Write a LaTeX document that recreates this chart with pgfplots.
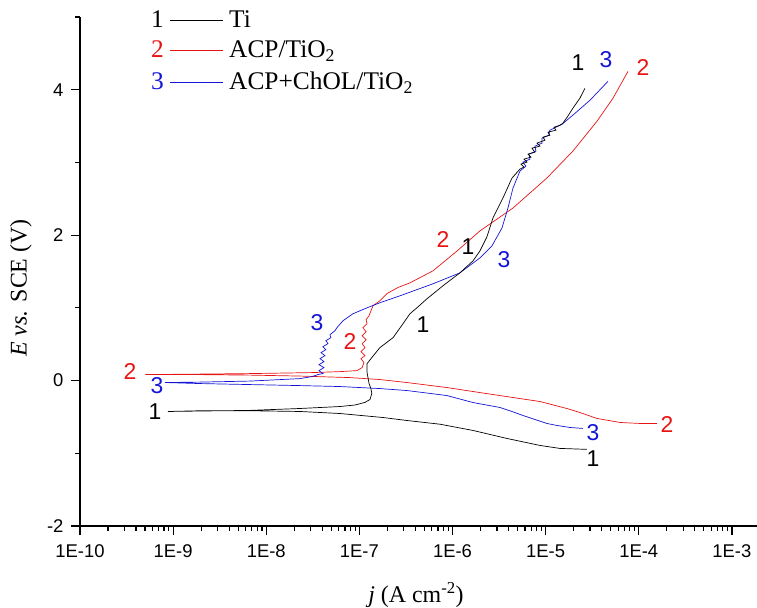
\documentclass[border=0pt]{standalone}
\usepackage{pgfplots}
\pgfplotsset{compat=1.18}
\usepackage{fontspec}
\setmainfont{Liberation Serif}
\newfontfamily\arial{Liberation Sans}

\definecolor{cred}{RGB}{232,20,20}
\definecolor{cblue}{RGB}{20,20,215}

\begin{document}
\begin{tikzpicture}
\begin{axis}[
    at={(80bp,82bp)}, anchor=south west,
    width=677bp, height=509bp, scale only axis,
    xmode=log,
    xmin=1e-10, xmax=1.86e-3,
    ymin=-2, ymax=5,
    axis lines*=left,
    axis line style={line width=1.5bp},
    tick align=outside,
    major tick length=9bp, minor tick length=4.5bp,
    every tick/.style={black, line width=1.2bp},
    xtick={1e-10,1e-9,1e-8,1e-7,1e-6,1e-5,1e-4,1e-3},
    xticklabels={1E-10,1E-9,1E-8,1E-7,1E-6,1E-5,1E-4,1E-3},
    minor xtick={2e-10,3e-10,4e-10,5e-10,6e-10,7e-10,8e-10,9e-10,
                 2e-9,3e-9,4e-9,5e-9,6e-9,7e-9,8e-9,9e-9,
                 2e-8,3e-8,4e-8,5e-8,6e-8,7e-8,8e-8,9e-8,
                 2e-7,3e-7,4e-7,5e-7,6e-7,7e-7,8e-7,9e-7,
                 2e-6,3e-6,4e-6,5e-6,6e-6,7e-6,8e-6,9e-6,
                 2e-5,3e-5,4e-5,5e-5,6e-5,7e-5,8e-5,9e-5,
                 2e-4,3e-4,4e-4,5e-4,6e-4,7e-4,8e-4,9e-4},
    ytick={-2,0,2,4},
    yticklabels={-2,0,2,4},
    minor ytick={-1,1,3,5},
    tick label style={font=\arial\fontsize{18.5}{20}\selectfont},
    xticklabel style={yshift=-6bp},
    yticklabel style={xshift=-4bp},
    xlabel={\textit{j} (A cm\textsuperscript{-2})},
    ylabel={\textit{E vs.} SCE (V)},
    label style={font=\fontsize{24}{26}\selectfont},
    xlabel style={at={(axis description cs:0.4963,0)}, anchor=center, yshift=-69bp},
    ylabel style={at={(axis description cs:-0.0872,0.4676)}, anchor=center},
]
% 2: ACP/TiO2
\addplot[cred, line width=0.7bp] coordinates {
(1.57e-4,-0.590)(1.03e-4,-0.590)(6.28e-5,-0.576)(3.56e-5,-0.521)(2.33e-5,-0.439)
(1.69e-5,-0.384)(8.69e-6,-0.288)(4.46e-6,-0.233)(1.97e-6,-0.165)(8.71e-7,-0.096)
(3.24e-7,-0.027)(1.66e-7,0.014)(7.92e-8,0.041)(2.30e-8,0.062)(6.68e-9,0.075)
(1.94e-9,0.082)(4.99e-10,0.082)
(1.94e-9,0.089)(6.68e-9,0.096)(3.18e-8,0.110)(6.19e-8,0.123)(9.42e-8,0.137)
(1.07e-7,0.178)(1.12e-7,0.247)(1.04e-7,0.302)(1.15e-7,0.343)(1.04e-7,0.398)
(1.15e-7,0.453)(1.07e-7,0.508)(1.18e-7,0.562)(1.07e-7,0.617)(1.18e-7,0.672)
(1.09e-7,0.727)(1.21e-7,0.782)(1.18e-7,0.837)(1.27e-7,0.892)(1.40e-7,1.029)
(1.66e-7,1.097)(2.00e-7,1.200)(2.60e-7,1.280)(3.49e-7,1.344)(6.17e-7,1.509)(1.12e-6,1.783)
(1.97e-6,2.058)(4.46e-6,2.373)(1.03e-5,2.785)(1.96e-5,3.155)(3.56e-5,3.567)
(5.28e-5,3.882)(7.66e-5,4.252)
};
% 3: ACP+ChOL/TiO2
\addplot[cblue, line width=0.7bp] coordinates {
(2.51e-5,-0.658)(1.82e-5,-0.645)(1.32e-5,-0.617)(1.03e-5,-0.590)(7.67e-6,-0.535)
(5.70e-6,-0.480)(4.35e-6,-0.425)(3.23e-6,-0.370)(1.66e-6,-0.302)(8.71e-7,-0.206)(3.24e-7,-0.137)
(1.66e-7,-0.110)(6.18e-8,-0.082)(2.30e-8,-0.069)(6.68e-9,-0.055)(1.94e-9,-0.041)
(8.18e-10,-0.027)
(1.94e-9,-0.021)(6.68e-9,-0.007)(2.30e-8,0.027)(3.10e-8,0.055)(3.59e-8,0.082)
(4.06e-8,0.096)(3.68e-8,0.137)(4.17e-8,0.178)(3.68e-8,0.219)(4.17e-8,0.261)
(3.78e-8,0.302)(4.27e-8,0.343)(3.87e-8,0.384)(4.37e-8,0.425)(4.06e-8,0.466)
(4.60e-8,0.508)(4.37e-8,0.549)(4.95e-8,0.590)(4.83e-8,0.631)(5.47e-8,0.686)
(5.74e-8,0.727)(6.67e-8,0.823)(8.53e-8,0.919)(1.21e-7,1.001)(1.66e-7,1.070)
(2.73e-7,1.166)(6.17e-7,1.331)(1.20e-6,1.481)(1.97e-6,1.687)(2.65e-6,1.852)
(3.40e-6,2.099)(3.94e-6,2.373)(4.46e-6,2.647)(5.30e-6,2.881)
(6.14e-6,2.949)(5.70e-6,3.004)(6.78e-6,3.045)(6.62e-6,3.114)(7.87e-6,3.155)
(7.67e-6,3.224)(9.12e-6,3.265)(9.12e-6,3.333)(1.08e-5,3.374)(1.11e-5,3.443)
(1.29e-5,3.484)(1.50e-5,3.525)(2.07e-5,3.676)(2.99e-5,3.855)(4.67e-5,4.115)
};
% 1: Ti
\addplot[black, line width=0.7bp] coordinates {
(2.77e-5,-0.946)(1.42e-5,-0.933)(8.69e-6,-0.892)(3.84e-6,-0.796)(1.66e-6,-0.686)
(7.33e-7,-0.600)(3.24e-7,-0.549)(1.79e-7,-0.508)(6.18e-8,-0.453)(2.30e-8,-0.425)
(6.68e-9,-0.415)(1.95e-9,-0.415)(8.81e-10,-0.425)
(6.70e-9,-0.410)(2.30e-8,-0.384)(6.18e-8,-0.357)(8.97e-8,-0.336)(1.15e-7,-0.300)
(1.30e-7,-0.260)(1.36e-7,-0.178)(1.33e-7,-0.110)(1.27e-7,-0.041)(1.21e-7,0.110)
(1.21e-7,0.233)(1.36e-7,0.316)(1.66e-7,0.453)(2.30e-7,0.590)(2.94e-7,0.782)
(3.49e-7,0.919)(4.15e-7,1.001)(5.32e-7,1.125)(7.89e-7,1.303)(1.20e-6,1.481)
(1.66e-6,1.646)(1.97e-6,1.783)(2.34e-6,1.975)(2.72e-6,2.236)(3.48e-6,2.510)
(4.35e-6,2.785)(5.30e-6,2.908)
(5.85e-6,2.936)(5.43e-6,2.977)(6.30e-6,3.004)(5.85e-6,3.045)(6.95e-6,3.073)
(6.46e-6,3.114)(7.67e-6,3.141)(7.13e-6,3.196)(8.69e-6,3.224)(8.07e-6,3.265)
(9.84e-6,3.306)(9.35e-6,3.347)(1.11e-5,3.374)(1.06e-5,3.416)(1.29e-5,3.443)
(1.23e-5,3.484)(1.43e-5,3.512)(1.53e-5,3.539)(1.73e-5,3.635)(1.96e-5,3.745)
(2.33e-5,3.882)(2.64e-5,4.019)
};
\end{axis}

% curve labels
\begin{scope}[every node/.style={inner sep=0pt, font=\arial\fontsize{23}{24}\selectfont}]
\node[text=cred]  at (130bp,236bp) {2};
\node[text=cblue] at (157bp,222bp) {3};
\node[text=black] at (155bp,196bp) {1};
\node[text=cblue] at (317bp,285bp) {3};
\node[text=cred]  at (350bp,266bp) {2};
\node[text=black] at (423bp,283bp) {1};
\node[text=cred]  at (443bp,368bp) {2};
\node[text=black] at (468bp,361bp) {1};
\node[text=cblue] at (504bp,348bp) {3};
\node[text=black] at (578bp,545bp) {1};
\node[text=cblue] at (606bp,548bp) {3};
\node[text=cred]  at (643bp,540bp) {2};
\node[text=cred]  at (667bp,183bp) {2};
\node[text=cblue] at (593bp,175bp) {3};
\node[text=black] at (593bp,149bp) {1};
\end{scope}

% legend
\begin{scope}[every node/.style={inner sep=0pt, anchor=base west, font=\fontsize{25.5}{27}\selectfont}]
\node[text=black] at (151bp,580bp) {1};
\draw[black, line width=0.7bp] (170bp,588bp) -- (223bp,588bp);
\node at (229bp,580bp) {Ti};
\node[text=cred] at (151bp,550bp) {2};
\draw[cred, line width=0.7bp] (170bp,558bp) -- (223bp,558bp);
\node at (229bp,550bp) {ACP/TiO\textsubscript{2}};
\node[text=cblue] at (151bp,518bp) {3};
\draw[cblue, line width=0.7bp] (170bp,526bp) -- (223bp,526bp);
\node at (229bp,518bp) {ACP+ChOL/TiO\textsubscript{2}};
\end{scope}

\pgfresetboundingbox
\path[use as bounding box] (0,0) rectangle (757bp,608bp);
\end{tikzpicture}
\end{document}
